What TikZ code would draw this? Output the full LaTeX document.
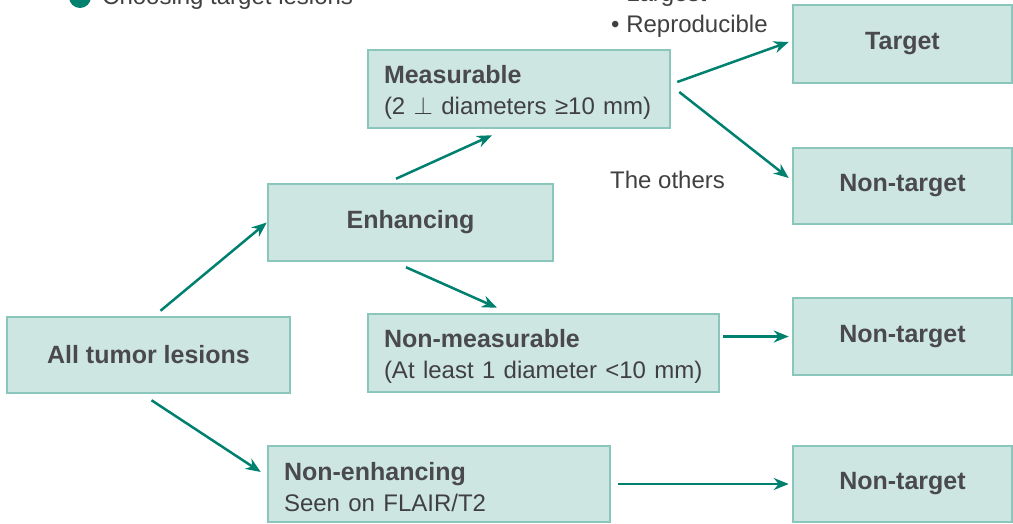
\documentclass[tikz,border=0pt]{standalone}
\usepackage{fontspec}
\setmainfont{Liberation Sans}
\usetikzlibrary{arrows.meta}

\definecolor{boxfill}{HTML}{CDE6E2}
\definecolor{boxline}{HTML}{8AC6BC}
\definecolor{arrowc}{HTML}{00806F}
\definecolor{labgray}{HTML}{4A4A4C}
\definecolor{txtgray}{HTML}{404042}
\newcommand{\lblfont}{\fontsize{25}{31}\selectfont}
\newcommand{\subfont}{\fontsize{24}{31}\selectfont\color{txtgray}}
\newcommand{\toprule}{\rule{0pt}{25pt}}

\tikzset{
	box/.style={draw=boxline, fill=boxfill, line width=2.5pt, inner sep=0pt, text=labgray, font=\lblfont},
	leftbox/.style={box, align=left, inner xsep=16pt},
	note/.style={text=txtgray, font=\fontsize{24}{31}\selectfont, inner sep=0pt},
	arr/.style={draw=arrowc, line width=2.5pt, -{Stealth[length=15pt,width=12pt]}}
}

\begin{document}
\begin{tikzpicture}[x=1pt,y=-1pt]
\useasboundingbox (0,0) rectangle (1013,523);

\fill[arrowc] (80,-3) circle (11);
\node[note, anchor=base west] (choose) at (102,4) {Choosing target lesions};
\node[note, anchor=base west] (largest) at (611,1) {\textbullet\ Largest};
\node[note, anchor=base west] (repro) at (611,32) {\textbullet\ Reproducible};
\node[note, anchor=base west] (others) at (610,188) {The others};

\node[box, minimum width=283, minimum height=76] (all) at (148.5,355) {\bfseries All tumor lesions};
\node[box, minimum width=285, minimum height=77] (enh) at (410.5,222.5) {\bfseries Enhancing};
\node[leftbox, minimum width=302, minimum height=78, text width=270] (meas) at (519,89)
	{\toprule{\bfseries Measurable}\\\subfont(2 $\perp$ diameters ≥10 mm)};
\node[leftbox, minimum width=351, minimum height=78, text width=319] (nmeas) at (543.5,353)
	{\toprule{\bfseries Non-measurable}\\\subfont(At least 1 diameter <10 mm)};
\node[leftbox, minimum width=342, minimum height=76, text width=310] (nenh) at (439,484)
	{\toprule{\bfseries Non-enhancing}\\\subfont Seen on FLAIR/T2};

\node[box, minimum width=219, minimum height=78] (tgt) at (902.5,44) {\bfseries Target};
\node[box, minimum width=219, minimum height=76] (nt1) at (902.5,186) {\bfseries Non-target};
\node[box, minimum width=219, minimum height=77] (nt2) at (902.5,336.5) {\bfseries Non-target};
\node[box, minimum width=219, minimum height=76] (nt3) at (902.5,484) {\bfseries Non-target};

\draw[arr] ([shift={(12,-5)}]all.north) -- (enh.west);
\draw[arr] ([shift={(3,6)}]all.south) -- ([shift={(-6,-12)}]nenh.west);
\draw[arr] ([shift={(-14.5,-4)}]enh.north) -- ([shift={(-27,6)}]meas.south);
\draw[arr] ([shift={(-4.5,5)}]enh.south) -- ([shift={(-46.5,-5)}]nmeas.north);
\draw[arr] ([shift={(6,-7)}]meas.east) -- ([shift={(-3,-2)}]tgt.west);
\draw[arr] ([shift={(8,3)}]meas.east) -- ([shift={(-3,-8)}]nt1.west);
\draw[arr, shorten <=3pt, shorten >=3pt] (nmeas.east |- nt2.west) -- (nt2.west);
\draw[arr, shorten <=7pt, shorten >=3pt] (nenh.east) -- (nt3.west);
\end{tikzpicture}
\end{document}
